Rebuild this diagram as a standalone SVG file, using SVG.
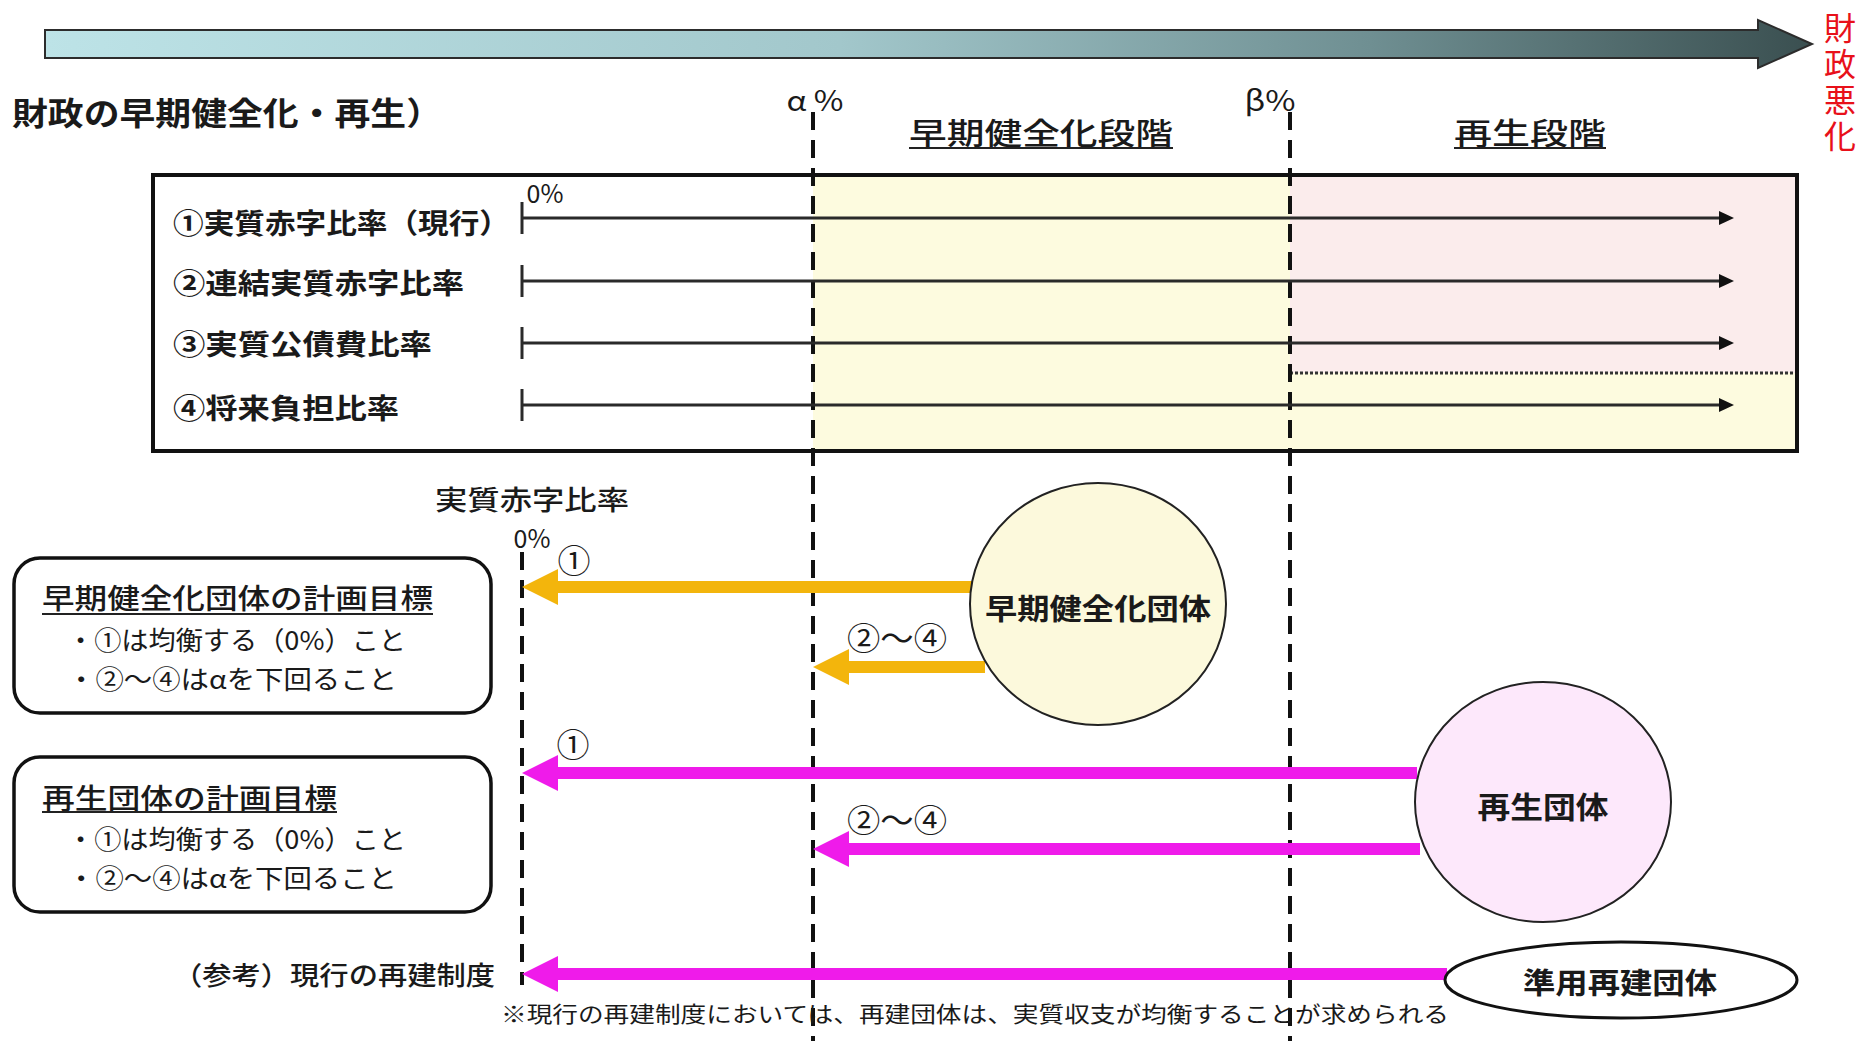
<svg xmlns="http://www.w3.org/2000/svg" width="1870" height="1041" viewBox="0 0 1870 1041">
<style>
text{font-family:"Noto Sans CJK JP","Noto Sans",sans-serif;fill:#1a1a1a;dominant-baseline:central}
.b{font-weight:bold}
.m{font-weight:500}
.row{font-size:28px;font-weight:bold}
.dash{stroke:#111;stroke-width:4;stroke-dasharray:18 10;fill:none}
.rl{stroke:#2a2a2a;stroke-width:3;fill:none}
.ya{stroke:#f3b50c;stroke-width:12;fill:none}
.ma{stroke:#ef1bea;stroke-width:12;fill:none}
.ul{stroke:#222;stroke-width:2}
</style>
<defs>
<linearGradient id="gbar" x1="0" y1="0" x2="1" y2="0">
<stop offset="0" stop-color="#bde3e7"/>
<stop offset="0.45" stop-color="#a2c7cb"/>
<stop offset="0.75" stop-color="#6f8f92"/>
<stop offset="1" stop-color="#3a4f50"/>
</linearGradient>
<marker id="hb" markerUnits="userSpaceOnUse" viewBox="0 0 15 14" markerWidth="15" markerHeight="14" refX="5" refY="7" orient="auto"><path d="M0,0L15,7L0,14z" fill="#111"/></marker>
<marker id="hy" markerUnits="userSpaceOnUse" viewBox="0 0 36 36" markerWidth="36" markerHeight="36" refX="6" refY="18" orient="auto"><path d="M0,0L36,18L0,36z" fill="#f3b50c"/></marker>
<marker id="hm" markerUnits="userSpaceOnUse" viewBox="0 0 36 36" markerWidth="36" markerHeight="36" refX="6" refY="18" orient="auto"><path d="M0,0L36,18L0,36z" fill="#ef1bea"/></marker>
</defs>
<rect width="1870" height="1041" fill="#fff"/>

<g id="top-arrow">
<polygon points="45,30 1758,30 1758,20 1812,44 1758,68 1758,58 45,58" fill="url(#gbar)" stroke="#2c2c2c" stroke-width="2"/>
<text x="1840" y="12" font-size="32" writing-mode="vertical-rl" letter-spacing="4" style="fill:#e8101a;dominant-baseline:auto">財政悪化</text>
</g>

<g id="title"><text x="12" y="111" font-size="32" class="b" textLength="430" lengthAdjust="spacingAndGlyphs">財政の早期健全化・再生）</text></g>

<g id="stage-box">
<rect x="813" y="175" width="984" height="276" fill="#fdfbdf"/>
<rect x="1290" y="175" width="507" height="198" fill="#fbecec"/>
<line x1="1290" y1="373" x2="1797" y2="373" stroke="#333" stroke-width="3" stroke-dasharray="3 2"/>
<rect x="153" y="175" width="1644" height="276" fill="none" stroke="#111" stroke-width="4"/>
<text x="545" y="192" font-size="25" text-anchor="middle">0%</text>
<text x="173" y="222" class="row" textLength="337" lengthAdjust="spacingAndGlyphs">①実質赤字比率（現行）</text>
<text x="173" y="282" class="row" textLength="291" lengthAdjust="spacingAndGlyphs">②連結実質赤字比率</text>
<text x="173" y="343" class="row" textLength="259" lengthAdjust="spacingAndGlyphs">③実質公債費比率</text>
<text x="173" y="407" class="row" textLength="226" lengthAdjust="spacingAndGlyphs">④将来負担比率</text>
</g>

<g id="thresholds">
<line x1="813" y1="112" x2="813" y2="1041" class="dash"/>
<line x1="1290" y1="112" x2="1290" y2="1041" class="dash"/>
<line x1="522" y1="552" x2="522" y2="985" class="dash"/>
<text x="815" y="99" font-size="28" text-anchor="middle" textLength="57" lengthAdjust="spacingAndGlyphs">α %</text>
<text x="1270" y="99" font-size="28" text-anchor="middle" textLength="51" lengthAdjust="spacingAndGlyphs">β%</text>
<text x="909" y="131" font-size="30" class="m" textLength="264" lengthAdjust="spacingAndGlyphs">早期健全化段階</text>
<line x1="909" y1="148" x2="1173" y2="148" class="ul"/>
<text x="1454" y="131" font-size="30" class="m" textLength="152" lengthAdjust="spacingAndGlyphs">再生段階</text>
<line x1="1454" y1="148" x2="1606" y2="148" class="ul"/>
<text x="435" y="498" font-size="27" class="m" textLength="194" lengthAdjust="spacingAndGlyphs">実質赤字比率</text>
<text x="532" y="537" font-size="25" text-anchor="middle">0%</text>
</g>

<g id="goal-early">
<rect x="14" y="558" width="477" height="155" rx="26" fill="#fff" stroke="#111" stroke-width="3.5"/>
<text x="42" y="597" font-size="28" class="m" textLength="391" lengthAdjust="spacingAndGlyphs">早期健全化団体の計画目標</text>
<line x1="42" y1="614" x2="433" y2="614" class="ul"/>
<text x="67" y="638" font-size="26" textLength="339" lengthAdjust="spacingAndGlyphs">・①は均衡する（0%）こと</text>
<text x="67" y="677" font-size="26" textLength="330" lengthAdjust="spacingAndGlyphs">・②～④はαを下回ること</text>
</g>

<g id="goal-regen">
<rect x="14" y="757" width="477" height="155" rx="26" fill="#fff" stroke="#111" stroke-width="3.5"/>
<text x="42" y="797" font-size="28" class="m" textLength="295" lengthAdjust="spacingAndGlyphs">再生団体の計画目標</text>
<line x1="42" y1="812" x2="337" y2="812" class="ul"/>
<text x="67" y="837" font-size="26" textLength="339" lengthAdjust="spacingAndGlyphs">・①は均衡する（0%）こと</text>
<text x="67" y="876" font-size="26" textLength="330" lengthAdjust="spacingAndGlyphs">・②～④はαを下回ること</text>
</g>

<g id="reference-label">
<text x="173" y="973" font-size="26" class="m" textLength="322" lengthAdjust="spacingAndGlyphs">（参考）現行の再建制度</text>
<text x="501" y="1012" font-size="22" textLength="948" lengthAdjust="spacingAndGlyphs">※現行の再建制度においては、再建団体は、実質収支が均衡することが求められる</text>
</g>

<g id="connectors">
<line x1="522" y1="202" x2="522" y2="234" class="rl"/>
<line x1="522" y1="218" x2="1724" y2="218" class="rl" marker-end="url(#hb)"/>
<line x1="522" y1="265" x2="522" y2="297" class="rl"/>
<line x1="522" y1="281" x2="1724" y2="281" class="rl" marker-end="url(#hb)"/>
<line x1="522" y1="327" x2="522" y2="359" class="rl"/>
<line x1="522" y1="343" x2="1724" y2="343" class="rl" marker-end="url(#hb)"/>
<line x1="522" y1="389" x2="522" y2="421" class="rl"/>
<line x1="522" y1="405" x2="1724" y2="405" class="rl" marker-end="url(#hb)"/>
<line x1="972" y1="587" x2="552" y2="587" class="ya" marker-end="url(#hy)"/>
<line x1="985" y1="667" x2="843" y2="667" class="ya" marker-end="url(#hy)"/>
<line x1="1417" y1="773" x2="552" y2="773" class="ma" marker-end="url(#hm)"/>
<line x1="1420" y1="849" x2="843" y2="849" class="ma" marker-end="url(#hm)"/>
<line x1="1447" y1="974" x2="552" y2="974" class="ma" marker-end="url(#hm)"/>
<text x="574" y="559" font-size="33" text-anchor="middle">①</text>
<text x="897" y="636" font-size="32" text-anchor="middle" textLength="100" lengthAdjust="spacingAndGlyphs">②～④</text>
<text x="573" y="743" font-size="33" text-anchor="middle">①</text>
<text x="897" y="818" font-size="32" text-anchor="middle" textLength="100" lengthAdjust="spacingAndGlyphs">②～④</text>
</g>

<g id="node-early">
<ellipse cx="1098" cy="604" rx="128" ry="121" fill="#fcf9dc" stroke="#222" stroke-width="2"/>
<text x="1098" y="607" font-size="29" class="b" text-anchor="middle" textLength="226" lengthAdjust="spacingAndGlyphs">早期健全化団体</text>
</g>

<g id="node-regen">
<ellipse cx="1543" cy="802" rx="128" ry="120" fill="#fde8fb" stroke="#222" stroke-width="2"/>
<text x="1543" y="805" font-size="30" class="b" text-anchor="middle" textLength="131" lengthAdjust="spacingAndGlyphs">再生団体</text>
</g>

<g id="node-rebuild">
<ellipse cx="1621" cy="980" rx="176" ry="38" fill="#fff" stroke="#111" stroke-width="3"/>
<text x="1620" y="981" font-size="29" class="b" text-anchor="middle" textLength="194" lengthAdjust="spacingAndGlyphs">準用再建団体</text>
</g>
</svg>
